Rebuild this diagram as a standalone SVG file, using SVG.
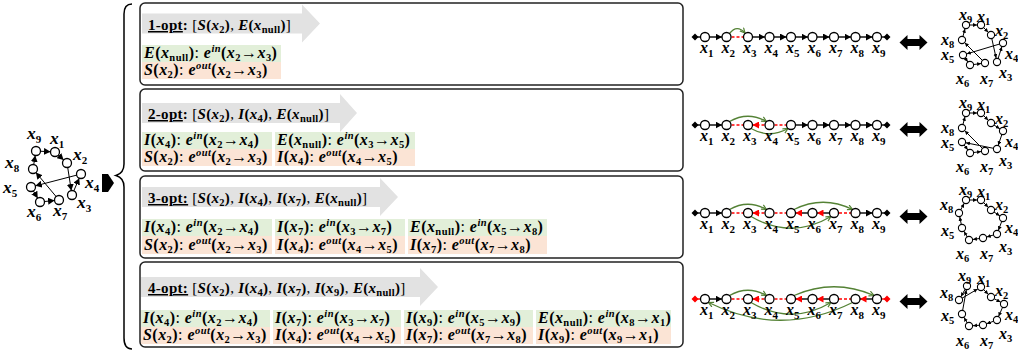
<svg xmlns="http://www.w3.org/2000/svg" width="1018" height="354" viewBox="0 0 1018 354">
<style>
.m{font-family:"Liberation Serif",serif;font-size:16px;letter-spacing:0.45px;font-weight:bold;fill:#000}
.t{font-size:15px;letter-spacing:0.3px}
.i{font-style:italic}
.s{font-size:10.5px;baseline-shift:-3px;font-style:normal}
.p{font-size:10.5px;baseline-shift:6px;font-style:italic}
.n{font-weight:normal;font-style:normal}
.lb{font-family:"Liberation Serif",serif;font-size:16px;font-weight:bold;font-style:italic}
.lb tspan{font-size:11px;font-style:normal;baseline-shift:-4px}
.big{font-size:17.5px}
.lr{font-family:"Liberation Serif",serif;font-size:16px;font-weight:bold;font-style:italic}
.lr tspan{font-size:10.5px;font-style:normal;baseline-shift:-3px}
.pn{fill:#fff;stroke:#222;stroke-width:1.5}
.ga{fill:#e2e2e2}
.gr{fill:#e2efd9}
.sa{fill:#fbe4d5}
.c{fill:#fff;stroke:#000;stroke-width:1.3}
.cs{fill:#fff;stroke:#000;stroke-width:1.1}
.k{stroke:#000;stroke-width:1.4;fill:none}
.kt{stroke:#000;stroke-width:1;fill:none}
.rd{stroke:#f00;stroke-width:1.4;stroke-dasharray:3,2;fill:none}
.rl{stroke:#f00;stroke-width:1.4;fill:none}
.g{stroke:#548235;stroke-width:1.3;fill:none}
</style>
<defs>
<marker id="ab" markerUnits="userSpaceOnUse" markerWidth="12" markerHeight="7" refX="11" refY="3.5" orient="auto"><path d="M0,0 L6.5,3.5 L0,7z" fill="#000"/></marker>
<marker id="ar" markerUnits="userSpaceOnUse" markerWidth="12" markerHeight="7" refX="11" refY="3.5" orient="auto"><path d="M0,0 L6.5,3.5 L0,7z" fill="#f00"/></marker>
<marker id="as" markerUnits="userSpaceOnUse" markerWidth="10" markerHeight="4" refX="8" refY="2" orient="auto"><path d="M0,0 L4,2 L0,4z" fill="#000"/></marker>
<marker id="ag" markerUnits="userSpaceOnUse" markerWidth="7" markerHeight="7" refX="5.5" refY="3" orient="auto"><path d="M0.5,0.5 L5.5,3 L0.5,5.5" fill="none" stroke="#548235" stroke-width="1.2"/></marker>
<polygon id="dbl" points="-14,0 -6,-7.5 -6,-3.5 6,-3.5 6,-7.5 14,0 6,7.5 6,3.5 -6,3.5 -6,7.5" fill="#000"/>
</defs>

<!-- left input graph -->
<g id="input-graph">
<g class="kt" stroke-width="1.3">
<line x1="36" y1="151" x2="55" y2="152" marker-end="url(#ab)"/>
<line x1="55" y1="152" x2="67" y2="163" marker-end="url(#ab)"/>
<line x1="67" y1="163" x2="72" y2="195" marker-end="url(#ab)"/>
<line x1="72" y1="195" x2="81" y2="174" marker-end="url(#ab)"/>
<line x1="81" y1="174" x2="31" y2="187" marker-end="url(#ab)"/>
<line x1="31" y1="187" x2="40" y2="202" marker-end="url(#ab)"/>
<line x1="40" y1="202" x2="59" y2="200" marker-end="url(#ab)"/>
<line x1="59" y1="200" x2="33" y2="169" marker-end="url(#ab)"/>
<line x1="33" y1="169" x2="36" y2="151" marker-end="url(#ab)"/>
</g>
<circle class="c" cx="36" cy="151" r="4.5"/><circle class="c" cx="55" cy="152" r="4.5"/><circle class="c" cx="67" cy="163" r="4.5"/>
<circle class="c" cx="33" cy="169" r="4.5"/><circle class="c" cx="81" cy="174" r="4.5"/><circle class="c" cx="31" cy="187" r="4.5"/>
<circle class="c" cx="72" cy="195" r="4.5"/><circle class="c" cx="40" cy="202" r="4.5"/><circle class="c" cx="59" cy="200" r="4.5"/>
<text class="lb big" x="27" y="139">x<tspan>9</tspan></text>
<text class="lb big" x="50" y="144">x<tspan>1</tspan></text>
<text class="lb big" x="73" y="160">x<tspan>2</tspan></text>
<text class="lb big" x="5" y="168">x<tspan>8</tspan></text>
<text class="lb big" x="85" y="188">x<tspan>4</tspan></text>
<text class="lb big" x="3" y="193">x<tspan>5</tspan></text>
<text class="lb big" x="77" y="208">x<tspan>3</tspan></text>
<text class="lb big" x="27" y="217">x<tspan>6</tspan></text>
<text class="lb big" x="53" y="216">x<tspan>7</tspan></text>
</g>

<g id="connectors-main">
<polygon points="102,174 108,174 114,183 108,192 102,192" fill="#000"/>
<path d="M132,4 C126,4 124,8 124,14 L124,164 C124,171 121,174 116,175.5 C121,177 124,180 124,187 L124,338 C124,345 126,349 132,349" fill="none" stroke="#000" stroke-width="1.5"/>
</g>

<!-- panel 1 -->
<g id="panel-1opt">
<rect class="pn" x="140" y="3" width="543" height="82" rx="5"/>
<path class="ga" d="M142,13.5 H302 V4.5 L320,23.5 L302,42.5 V33.5 H142z"/>
<text class="m t" x="148" y="30"><tspan text-decoration="underline">1-opt</tspan>: <tspan class="n">[</tspan><tspan class="i">S</tspan>(<tspan class="i">x</tspan><tspan class="s">2</tspan>)<tspan class="n">, </tspan><tspan class="i">E</tspan>(<tspan class="i">x</tspan><tspan class="s">null</tspan>)<tspan class="n">]</tspan></text>
<rect class="gr" x="142" y="45" width="139" height="17"/>
<rect class="sa" x="142" y="62" width="139" height="17"/>
<text class="m" x="144" y="58"><tspan class="i">E</tspan>(<tspan class="i">x</tspan><tspan class="s">null</tspan>)<tspan class="n">: </tspan><tspan class="i">e</tspan><tspan class="p">in</tspan>(<tspan class="i">x</tspan><tspan class="s">2</tspan><tspan class="n">→</tspan><tspan class="i">x</tspan><tspan class="s">3</tspan>)</text>
<text class="m" x="144" y="75"><tspan class="i">S</tspan>(<tspan class="i">x</tspan><tspan class="s">2</tspan>)<tspan class="n">: </tspan><tspan class="i">e</tspan><tspan class="p">out</tspan>(<tspan class="i">x</tspan><tspan class="s">2</tspan><tspan class="n">→</tspan><tspan class="i">x</tspan><tspan class="s">3</tspan>)</text>
</g>

<!-- panel 2 -->
<g id="panel-2opt">
<rect class="pn" x="140" y="89" width="543" height="82" rx="5"/>
<path class="ga" d="M142,103 H340 V94 L357,113 L340,132 V123 H142z"/>
<text class="m t" x="148" y="119"><tspan text-decoration="underline">2-opt</tspan>: <tspan class="n">[</tspan><tspan class="i">S</tspan>(<tspan class="i">x</tspan><tspan class="s">2</tspan>)<tspan class="n">, </tspan><tspan class="i">I</tspan>(<tspan class="i">x</tspan><tspan class="s">4</tspan>)<tspan class="n">, </tspan><tspan class="i">E</tspan>(<tspan class="i">x</tspan><tspan class="s">null</tspan>)<tspan class="n">]</tspan></text>
<rect class="gr" x="142" y="132" width="130" height="17"/>
<rect class="sa" x="142" y="149" width="130" height="17"/>
<rect class="gr" x="275" y="132" width="140" height="17"/>
<rect class="sa" x="275" y="149" width="140" height="17"/>
<text class="m" x="144" y="145"><tspan class="i">I</tspan>(<tspan class="i">x</tspan><tspan class="s">4</tspan>)<tspan class="n">: </tspan><tspan class="i">e</tspan><tspan class="p">in</tspan>(<tspan class="i">x</tspan><tspan class="s">2</tspan><tspan class="n">→</tspan><tspan class="i">x</tspan><tspan class="s">4</tspan>)</text>
<text class="m" x="144" y="162"><tspan class="i">S</tspan>(<tspan class="i">x</tspan><tspan class="s">2</tspan>)<tspan class="n">: </tspan><tspan class="i">e</tspan><tspan class="p">out</tspan>(<tspan class="i">x</tspan><tspan class="s">2</tspan><tspan class="n">→</tspan><tspan class="i">x</tspan><tspan class="s">3</tspan>)</text>
<text class="m" x="277" y="145"><tspan class="i">E</tspan>(<tspan class="i">x</tspan><tspan class="s">null</tspan>)<tspan class="n">: </tspan><tspan class="i">e</tspan><tspan class="p">in</tspan>(<tspan class="i">x</tspan><tspan class="s">3</tspan><tspan class="n">→</tspan><tspan class="i">x</tspan><tspan class="s">5</tspan>)</text>
<text class="m" x="277" y="162"><tspan class="i">I</tspan>(<tspan class="i">x</tspan><tspan class="s">4</tspan>)<tspan class="n">: </tspan><tspan class="i">e</tspan><tspan class="p">out</tspan>(<tspan class="i">x</tspan><tspan class="s">4</tspan><tspan class="n">→</tspan><tspan class="i">x</tspan><tspan class="s">5</tspan>)</text>
</g>

<!-- panel 3 -->
<g id="panel-3opt">
<rect class="pn" x="140" y="176" width="543" height="82" rx="5"/>
<path class="ga" d="M142,187 H380 V178 L398,197 L380,216 V207 H142z"/>
<text class="m t" x="148" y="203"><tspan text-decoration="underline">3-opt:</tspan>  <tspan class="n">[</tspan><tspan class="i">S</tspan>(<tspan class="i">x</tspan><tspan class="s">2</tspan>)<tspan class="n">, </tspan><tspan class="i">I</tspan>(<tspan class="i">x</tspan><tspan class="s">4</tspan>)<tspan class="n">, </tspan><tspan class="i">I</tspan>(<tspan class="i">x</tspan><tspan class="s">7</tspan>)<tspan class="n">, </tspan><tspan class="i">E</tspan>(<tspan class="i">x</tspan><tspan class="s">null</tspan>)<tspan class="n">]</tspan></text>
<rect class="gr" x="142" y="219" width="130" height="17"/>
<rect class="sa" x="142" y="236" width="130" height="18"/>
<rect class="gr" x="275" y="219" width="130" height="17"/>
<rect class="sa" x="275" y="236" width="130" height="18"/>
<rect class="gr" x="408" y="219" width="139" height="17"/>
<rect class="sa" x="408" y="236" width="139" height="18"/>
<text class="m" x="144" y="232"><tspan class="i">I</tspan>(<tspan class="i">x</tspan><tspan class="s">4</tspan>)<tspan class="n">: </tspan><tspan class="i">e</tspan><tspan class="p">in</tspan>(<tspan class="i">x</tspan><tspan class="s">2</tspan><tspan class="n">→</tspan><tspan class="i">x</tspan><tspan class="s">4</tspan>)</text>
<text class="m" x="144" y="250"><tspan class="i">S</tspan>(<tspan class="i">x</tspan><tspan class="s">2</tspan>)<tspan class="n">: </tspan><tspan class="i">e</tspan><tspan class="p">out</tspan>(<tspan class="i">x</tspan><tspan class="s">2</tspan><tspan class="n">→</tspan><tspan class="i">x</tspan><tspan class="s">3</tspan>)</text>
<text class="m" x="277" y="232"><tspan class="i">I</tspan>(<tspan class="i">x</tspan><tspan class="s">7</tspan>)<tspan class="n">: </tspan><tspan class="i">e</tspan><tspan class="p">in</tspan>(<tspan class="i">x</tspan><tspan class="s">3</tspan><tspan class="n">→</tspan><tspan class="i">x</tspan><tspan class="s">7</tspan>)</text>
<text class="m" x="277" y="250"><tspan class="i">I</tspan>(<tspan class="i">x</tspan><tspan class="s">4</tspan>)<tspan class="n">: </tspan><tspan class="i">e</tspan><tspan class="p">out</tspan>(<tspan class="i">x</tspan><tspan class="s">4</tspan><tspan class="n">→</tspan><tspan class="i">x</tspan><tspan class="s">5</tspan>)</text>
<text class="m" x="410" y="232"><tspan class="i">E</tspan>(<tspan class="i">x</tspan><tspan class="s">null</tspan>)<tspan class="n">: </tspan><tspan class="i">e</tspan><tspan class="p">in</tspan>(<tspan class="i">x</tspan><tspan class="s">5</tspan><tspan class="n">→</tspan><tspan class="i">x</tspan><tspan class="s">8</tspan>)</text>
<text class="m" x="410" y="250"><tspan class="i">I</tspan>(<tspan class="i">x</tspan><tspan class="s">7</tspan>)<tspan class="n">: </tspan><tspan class="i">e</tspan><tspan class="p">out</tspan>(<tspan class="i">x</tspan><tspan class="s">7</tspan><tspan class="n">→</tspan><tspan class="i">x</tspan><tspan class="s">8</tspan>)</text>
</g>

<!-- panel 4 -->
<g id="panel-4opt">
<rect class="pn" x="140" y="262" width="543" height="85" rx="5"/>
<path class="ga" d="M141,277 H420 V268 L438,287 L420,306 V297 H141z"/>
<text class="m t" x="148" y="293"><tspan text-decoration="underline">4-opt:</tspan>  <tspan class="n">[</tspan><tspan class="i">S</tspan>(<tspan class="i">x</tspan><tspan class="s">2</tspan>)<tspan class="n">, </tspan><tspan class="i">I</tspan>(<tspan class="i">x</tspan><tspan class="s">4</tspan>)<tspan class="n">, </tspan><tspan class="i">I</tspan>(<tspan class="i">x</tspan><tspan class="s">7</tspan>)<tspan class="n">, </tspan><tspan class="i">I</tspan>(<tspan class="i">x</tspan><tspan class="s">9</tspan>)<tspan class="n">, </tspan><tspan class="i">E</tspan>(<tspan class="i">x</tspan><tspan class="s">null</tspan>)<tspan class="n">]</tspan></text>
<rect class="gr" x="141" y="310" width="129" height="17"/>
<rect class="sa" x="141" y="327" width="129" height="17"/>
<rect class="gr" x="273" y="310" width="128" height="17"/>
<rect class="sa" x="273" y="327" width="128" height="17"/>
<rect class="gr" x="404" y="310" width="129" height="17"/>
<rect class="sa" x="404" y="327" width="129" height="17"/>
<rect class="gr" x="536" y="310" width="135" height="17"/>
<rect class="sa" x="536" y="327" width="135" height="17"/>
<text class="m" x="143" y="323"><tspan class="i">I</tspan>(<tspan class="i">x</tspan><tspan class="s">4</tspan>)<tspan class="n">: </tspan><tspan class="i">e</tspan><tspan class="p">in</tspan>(<tspan class="i">x</tspan><tspan class="s">2</tspan><tspan class="n">→</tspan><tspan class="i">x</tspan><tspan class="s">4</tspan>)</text>
<text class="m" x="143" y="340"><tspan class="i">S</tspan>(<tspan class="i">x</tspan><tspan class="s">2</tspan>)<tspan class="n">: </tspan><tspan class="i">e</tspan><tspan class="p">out</tspan>(<tspan class="i">x</tspan><tspan class="s">2</tspan><tspan class="n">→</tspan><tspan class="i">x</tspan><tspan class="s">3</tspan>)</text>
<text class="m" x="275" y="323"><tspan class="i">I</tspan>(<tspan class="i">x</tspan><tspan class="s">7</tspan>)<tspan class="n">: </tspan><tspan class="i">e</tspan><tspan class="p">in</tspan>(<tspan class="i">x</tspan><tspan class="s">3</tspan><tspan class="n">→</tspan><tspan class="i">x</tspan><tspan class="s">7</tspan>)</text>
<text class="m" x="275" y="340"><tspan class="i">I</tspan>(<tspan class="i">x</tspan><tspan class="s">4</tspan>)<tspan class="n">: </tspan><tspan class="i">e</tspan><tspan class="p">out</tspan>(<tspan class="i">x</tspan><tspan class="s">4</tspan><tspan class="n">→</tspan><tspan class="i">x</tspan><tspan class="s">5</tspan>)</text>
<text class="m" x="406" y="323"><tspan class="i">I</tspan>(<tspan class="i">x</tspan><tspan class="s">9</tspan>)<tspan class="n">: </tspan><tspan class="i">e</tspan><tspan class="p">in</tspan>(<tspan class="i">x</tspan><tspan class="s">5</tspan><tspan class="n">→</tspan><tspan class="i">x</tspan><tspan class="s">9</tspan>)</text>
<text class="m" x="406" y="340"><tspan class="i">I</tspan>(<tspan class="i">x</tspan><tspan class="s">7</tspan>)<tspan class="n">: </tspan><tspan class="i">e</tspan><tspan class="p">out</tspan>(<tspan class="i">x</tspan><tspan class="s">7</tspan><tspan class="n">→</tspan><tspan class="i">x</tspan><tspan class="s">8</tspan>)</text>
<text class="m" x="538" y="323"><tspan class="i">E</tspan>(<tspan class="i">x</tspan><tspan class="s">null</tspan>)<tspan class="n">: </tspan><tspan class="i">e</tspan><tspan class="p">in</tspan>(<tspan class="i">x</tspan><tspan class="s">8</tspan><tspan class="n">→</tspan><tspan class="i">x</tspan><tspan class="s">1</tspan>)</text>
<text class="m" x="538" y="340"><tspan class="i">I</tspan>(<tspan class="i">x</tspan><tspan class="s">9</tspan>)<tspan class="n">: </tspan><tspan class="i">e</tspan><tspan class="p">out</tspan>(<tspan class="i">x</tspan><tspan class="s">9</tspan><tspan class="n">→</tspan><tspan class="i">x</tspan><tspan class="s">1</tspan>)</text>
</g>

<!-- chains: connectors -->
<g id="chain-connectors">
<line class="k" x1="695" y1="37" x2="705" y2="37"/>
<line class="k" x1="705" y1="37" x2="726.5" y2="37" marker-end="url(#ab)"/>
<line class="rd" x1="726.5" y1="37" x2="748" y2="37"/>
<line class="k" x1="748" y1="37" x2="769.5" y2="37" marker-end="url(#ab)"/>
<line class="k" x1="769.5" y1="37" x2="791" y2="37" marker-end="url(#ab)"/>
<line class="k" x1="791" y1="37" x2="812.5" y2="37" marker-end="url(#ab)"/>
<line class="k" x1="812.5" y1="37" x2="834" y2="37" marker-end="url(#ab)"/>
<line class="k" x1="834" y1="37" x2="855.5" y2="37" marker-end="url(#ab)"/>
<line class="k" x1="855.5" y1="37" x2="877" y2="37" marker-end="url(#ab)"/>
<line class="k" x1="877" y1="37" x2="887" y2="37"/>
<path class="g" d="M729.5,33.5 Q737,24 745,33" marker-end="url(#ag)"/>
<line class="k" x1="695" y1="125" x2="705" y2="125"/>
<line class="k" x1="705" y1="125" x2="726.5" y2="125" marker-end="url(#ab)"/>
<line class="rd" x1="726.5" y1="125" x2="748" y2="125"/>
<line class="rd" x1="769.5" y1="125" x2="748" y2="125" marker-end="url(#ar)"/>
<line class="rd" x1="769.5" y1="125" x2="791" y2="125"/>
<line class="k" x1="791" y1="125" x2="812.5" y2="125" marker-end="url(#ab)"/>
<line class="k" x1="812.5" y1="125" x2="834" y2="125" marker-end="url(#ab)"/>
<line class="k" x1="834" y1="125" x2="855.5" y2="125" marker-end="url(#ab)"/>
<line class="k" x1="855.5" y1="125" x2="877" y2="125" marker-end="url(#ab)"/>
<line class="k" x1="877" y1="125" x2="887" y2="125"/>
<path class="g" d="M729.5,121.5 Q748,111 766.5,121.5" marker-end="url(#ag)"/>
<path class="g" d="M751,128.5 Q769.5,139 788,128.5" marker-end="url(#ag)"/>
<line class="k" x1="695" y1="213" x2="705" y2="213"/>
<line class="k" x1="705" y1="213" x2="726.5" y2="213" marker-end="url(#ab)"/>
<line class="rd" x1="726.5" y1="213" x2="748" y2="213"/>
<line class="rd" x1="769.5" y1="213" x2="748" y2="213" marker-end="url(#ar)"/>
<line class="rd" x1="769.5" y1="213" x2="791" y2="213"/>
<line class="k" x1="812.5" y1="213" x2="791" y2="213" marker-end="url(#ar)"/>
<line class="k" x1="834" y1="213" x2="812.5" y2="213" marker-end="url(#ar)"/>
<line class="rd" x1="834" y1="213" x2="855.5" y2="213"/>
<line class="k" x1="855.5" y1="213" x2="877" y2="213" marker-end="url(#ab)"/>
<line class="k" x1="877" y1="213" x2="887" y2="213"/>
<path class="g" d="M729.5,209.5 Q748,199 766.5,209.5" marker-end="url(#ag)"/>
<path class="g" d="M794,209.5 Q823,195 852.5,209.5" marker-end="url(#ag)"/>
<path class="g" d="M751,216.5 Q791,240 831,216.5" marker-end="url(#ag)"/>
<line class="rl" x1="695" y1="299" x2="705" y2="299"/>
<line class="k" x1="705" y1="299" x2="726.5" y2="299" marker-end="url(#ab)"/>
<line class="rd" x1="726.5" y1="299" x2="748" y2="299"/>
<line class="rd" x1="769.5" y1="299" x2="748" y2="299" marker-end="url(#ar)"/>
<line class="rd" x1="769.5" y1="299" x2="791" y2="299"/>
<line class="k" x1="812.5" y1="299" x2="791" y2="299" marker-end="url(#ar)"/>
<line class="k" x1="834" y1="299" x2="812.5" y2="299" marker-end="url(#ar)"/>
<line class="rd" x1="834" y1="299" x2="855.5" y2="299"/>
<line class="k" x1="877" y1="299" x2="855.5" y2="299" marker-end="url(#ar)"/>
<line class="rl" x1="877" y1="299" x2="887" y2="299"/>
<path class="g" d="M729.5,295.5 Q748,285 766.5,295.5" marker-end="url(#ag)"/>
<path class="g" d="M794,295.5 Q834,278 874,295.5" marker-end="url(#ag)"/>
<path class="g" d="M751,302.5 Q791,326 831,302.5" marker-end="url(#ag)"/>
<path class="g" d="M852.5,302.5 Q781,338 708.5,302.5" marker-end="url(#ag)"/>
</g>

<g id="chain-1">
<path d="M691.5,37 L695,33.5 L698.5,37 L695,40.5z M883.5,37 L887,33.5 L890.5,37 L887,40.5z" fill="#000"/>
<circle class="c" cx="705" cy="37" r="4.5"/><circle class="c" cx="726.5" cy="37" r="4.5"/><circle class="c" cx="748" cy="37" r="4.5"/><circle class="c" cx="769.5" cy="37" r="4.5"/><circle class="c" cx="791" cy="37" r="4.5"/><circle class="c" cx="812.5" cy="37" r="4.5"/><circle class="c" cx="834" cy="37" r="4.5"/><circle class="c" cx="855.5" cy="37" r="4.5"/><circle class="c" cx="877" cy="37" r="4.5"/>
<text class="lb" x="700" y="53">x<tspan>1</tspan></text><text class="lb" x="721.5" y="53">x<tspan>2</tspan></text><text class="lb" x="743" y="53">x<tspan>3</tspan></text><text class="lb" x="764.5" y="53">x<tspan>4</tspan></text><text class="lb" x="786" y="53">x<tspan>5</tspan></text><text class="lb" x="807.5" y="53">x<tspan>6</tspan></text><text class="lb" x="829" y="53">x<tspan>7</tspan></text><text class="lb" x="850.5" y="53">x<tspan>8</tspan></text><text class="lb" x="872" y="53">x<tspan>9</tspan></text>
</g>
<g id="chain-2">
<path d="M691.5,125 L695,121.5 L698.5,125 L695,128.5z M883.5,125 L887,121.5 L890.5,125 L887,128.5z" fill="#000"/>
<circle class="c" cx="705" cy="125" r="4.5"/><circle class="c" cx="726.5" cy="125" r="4.5"/><circle class="c" cx="748" cy="125" r="4.5"/><circle class="c" cx="769.5" cy="125" r="4.5"/><circle class="c" cx="791" cy="125" r="4.5"/><circle class="c" cx="812.5" cy="125" r="4.5"/><circle class="c" cx="834" cy="125" r="4.5"/><circle class="c" cx="855.5" cy="125" r="4.5"/><circle class="c" cx="877" cy="125" r="4.5"/>
<text class="lb" x="700" y="141">x<tspan>1</tspan></text><text class="lb" x="721.5" y="141">x<tspan>2</tspan></text><text class="lb" x="743" y="141">x<tspan>3</tspan></text><text class="lb" x="764.5" y="141">x<tspan>4</tspan></text><text class="lb" x="786" y="141">x<tspan>5</tspan></text><text class="lb" x="807.5" y="141">x<tspan>6</tspan></text><text class="lb" x="829" y="141">x<tspan>7</tspan></text><text class="lb" x="850.5" y="141">x<tspan>8</tspan></text><text class="lb" x="872" y="141">x<tspan>9</tspan></text>
</g>
<g id="chain-3">
<path d="M691.5,213 L695,209.5 L698.5,213 L695,216.5z M883.5,213 L887,209.5 L890.5,213 L887,216.5z" fill="#000"/>
<circle class="c" cx="705" cy="213" r="4.5"/><circle class="c" cx="726.5" cy="213" r="4.5"/><circle class="c" cx="748" cy="213" r="4.5"/><circle class="c" cx="769.5" cy="213" r="4.5"/><circle class="c" cx="791" cy="213" r="4.5"/><circle class="c" cx="812.5" cy="213" r="4.5"/><circle class="c" cx="834" cy="213" r="4.5"/><circle class="c" cx="855.5" cy="213" r="4.5"/><circle class="c" cx="877" cy="213" r="4.5"/>
<text class="lb" x="700" y="229">x<tspan>1</tspan></text><text class="lb" x="721.5" y="229">x<tspan>2</tspan></text><text class="lb" x="743" y="229">x<tspan>3</tspan></text><text class="lb" x="764.5" y="229">x<tspan>4</tspan></text><text class="lb" x="786" y="229">x<tspan>5</tspan></text><text class="lb" x="807.5" y="229">x<tspan>6</tspan></text><text class="lb" x="829" y="229">x<tspan>7</tspan></text><text class="lb" x="850.5" y="229">x<tspan>8</tspan></text><text class="lb" x="872" y="229">x<tspan>9</tspan></text>
</g>
<g id="chain-4">
<path d="M691.5,299 L695,295.5 L698.5,299 L695,302.5z M883.5,299 L887,295.5 L890.5,299 L887,302.5z" fill="#f00"/>
<circle class="c" cx="705" cy="299" r="4.5"/><circle class="c" cx="726.5" cy="299" r="4.5"/><circle class="c" cx="748" cy="299" r="4.5"/><circle class="c" cx="769.5" cy="299" r="4.5"/><circle class="c" cx="791" cy="299" r="4.5"/><circle class="c" cx="812.5" cy="299" r="4.5"/><circle class="c" cx="834" cy="299" r="4.5"/><circle class="c" cx="855.5" cy="299" r="4.5"/><circle class="c" cx="877" cy="299" r="4.5"/>
<text class="lb" x="700" y="315">x<tspan>1</tspan></text><text class="lb" x="721.5" y="315">x<tspan>2</tspan></text><text class="lb" x="743" y="315">x<tspan>3</tspan></text><text class="lb" x="764.5" y="315">x<tspan>4</tspan></text><text class="lb" x="786" y="315">x<tspan>5</tspan></text><text class="lb" x="807.5" y="315">x<tspan>6</tspan></text><text class="lb" x="829" y="315">x<tspan>7</tspan></text><text class="lb" x="850.5" y="315">x<tspan>8</tspan></text><text class="lb" x="872" y="315">x<tspan>9</tspan></text>
</g>

<g id="equivalence-arrows">
<use href="#dbl" x="913.5" y="42.5"/>
<use href="#dbl" x="913.5" y="129.5"/>
<use href="#dbl" x="913.5" y="216.5"/>
<use href="#dbl" x="913.5" y="301.5"/>
</g>

<g id="tour-1">
<g class="kt">
<line x1="966" y1="25" x2="981" y2="25" marker-end="url(#as)"/><line x1="981" y1="25" x2="991" y2="35" marker-end="url(#as)"/><line x1="991" y1="35" x2="997" y2="62" marker-end="url(#as)"/><line x1="997" y1="62" x2="1003" y2="43" marker-end="url(#as)"/><line x1="1003" y1="43" x2="963" y2="55" marker-end="url(#as)"/><line x1="963" y1="55" x2="970" y2="65" marker-end="url(#as)"/><line x1="970" y1="65" x2="985" y2="63" marker-end="url(#as)"/><line x1="985" y1="63" x2="962" y2="40" marker-end="url(#as)"/><line x1="962" y1="40" x2="966" y2="25" marker-end="url(#as)"/>
</g>
<circle class="cs" cx="966" cy="25" r="3.6"/><circle class="cs" cx="981" cy="25" r="3.6"/><circle class="cs" cx="991" cy="35" r="3.6"/><circle class="cs" cx="962" cy="40" r="3.6"/><circle class="cs" cx="1003" cy="43" r="3.6"/><circle class="cs" cx="963" cy="55" r="3.6"/><circle class="cs" cx="997" cy="62" r="3.6"/><circle class="cs" cx="970" cy="65" r="3.6"/><circle class="cs" cx="985" cy="63" r="3.6"/>
<text class="lr" x="959" y="20">x<tspan>9</tspan></text><text class="lr" x="977" y="22">x<tspan>1</tspan></text><text class="lr" x="995" y="36">x<tspan>2</tspan></text><text class="lr" x="941" y="45">x<tspan>8</tspan></text><text class="lr" x="1005" y="59">x<tspan>4</tspan></text><text class="lr" x="941" y="60">x<tspan>5</tspan></text><text class="lr" x="999" y="78">x<tspan>3</tspan></text><text class="lr" x="956" y="84">x<tspan>6</tspan></text><text class="lr" x="980" y="84">x<tspan>7</tspan></text>
</g>
<g id="tour-2">
<g class="kt">
<line x1="966" y1="113" x2="981" y2="113" marker-end="url(#as)"/><line x1="981" y1="113" x2="991" y2="123" marker-end="url(#as)"/><line x1="991" y1="123" x2="1003" y2="131" marker-end="url(#as)"/><line x1="1003" y1="131" x2="997" y2="149" marker-end="url(#as)"/><line x1="997" y1="149" x2="962" y2="142" marker-end="url(#as)"/><line x1="962" y1="142" x2="970" y2="153" marker-end="url(#as)"/><line x1="970" y1="153" x2="985" y2="151" marker-end="url(#as)"/><line x1="985" y1="151" x2="962" y2="128" marker-end="url(#as)"/><line x1="962" y1="128" x2="966" y2="113" marker-end="url(#as)"/>
</g>
<circle class="cs" cx="966" cy="113" r="3.6"/><circle class="cs" cx="981" cy="113" r="3.6"/><circle class="cs" cx="991" cy="123" r="3.6"/><circle class="cs" cx="962" cy="128" r="3.6"/><circle class="cs" cx="1003" cy="131" r="3.6"/><circle class="cs" cx="962" cy="142" r="3.6"/><circle class="cs" cx="997" cy="149" r="3.6"/><circle class="cs" cx="970" cy="153" r="3.6"/><circle class="cs" cx="985" cy="151" r="3.6"/>
<text class="lr" x="959" y="108">x<tspan>9</tspan></text><text class="lr" x="977" y="110">x<tspan>1</tspan></text><text class="lr" x="995" y="124">x<tspan>2</tspan></text><text class="lr" x="941" y="133">x<tspan>8</tspan></text><text class="lr" x="1005" y="147">x<tspan>4</tspan></text><text class="lr" x="941" y="148">x<tspan>5</tspan></text><text class="lr" x="999" y="166">x<tspan>3</tspan></text><text class="lr" x="956" y="172">x<tspan>6</tspan></text><text class="lr" x="980" y="172">x<tspan>7</tspan></text>
</g>
<g id="tour-3">
<g class="kt">
<line x1="966" y1="200" x2="981" y2="200" marker-end="url(#as)"/><line x1="981" y1="200" x2="991" y2="210" marker-end="url(#as)"/><line x1="991" y1="210" x2="1003" y2="218" marker-end="url(#as)"/><line x1="1003" y1="218" x2="997" y2="234" marker-end="url(#as)"/><line x1="997" y1="234" x2="983" y2="238" marker-end="url(#as)"/><line x1="983" y1="238" x2="969" y2="240" marker-end="url(#as)"/><line x1="969" y1="240" x2="962" y2="228" marker-end="url(#as)"/><line x1="962" y1="228" x2="959" y2="213" marker-end="url(#as)"/><line x1="959" y1="213" x2="966" y2="200" marker-end="url(#as)"/>
</g>
<circle class="cs" cx="966" cy="200" r="3.6"/><circle class="cs" cx="981" cy="200" r="3.6"/><circle class="cs" cx="991" cy="210" r="3.6"/><circle class="cs" cx="959" cy="213" r="3.6"/><circle class="cs" cx="1003" cy="218" r="3.6"/><circle class="cs" cx="962" cy="228" r="3.6"/><circle class="cs" cx="997" cy="234" r="3.6"/><circle class="cs" cx="969" cy="240" r="3.6"/><circle class="cs" cx="983" cy="238" r="3.6"/>
<text class="lr" x="959" y="195">x<tspan>9</tspan></text><text class="lr" x="977" y="197">x<tspan>1</tspan></text><text class="lr" x="995" y="210">x<tspan>2</tspan></text><text class="lr" x="940" y="210">x<tspan>8</tspan></text><text class="lr" x="1005" y="233">x<tspan>4</tspan></text><text class="lr" x="941" y="236">x<tspan>5</tspan></text><text class="lr" x="999" y="252">x<tspan>3</tspan></text><text class="lr" x="956" y="259">x<tspan>6</tspan></text><text class="lr" x="980" y="259">x<tspan>7</tspan></text>
</g>
<g id="tour-4">
<g class="kt">
<line x1="981" y1="287" x2="991" y2="297" marker-end="url(#as)"/><line x1="991" y1="297" x2="1004" y2="304" marker-end="url(#as)"/><line x1="1004" y1="304" x2="997" y2="320" marker-end="url(#as)"/><line x1="997" y1="320" x2="983" y2="325" marker-end="url(#as)"/><line x1="983" y1="325" x2="969" y2="326" marker-end="url(#as)"/><line x1="969" y1="326" x2="962" y2="314" marker-end="url(#as)"/><line x1="962" y1="314" x2="967" y2="286" marker-end="url(#as)"/><line x1="967" y1="286" x2="959" y2="300" marker-end="url(#as)"/><line x1="959" y1="300" x2="981" y2="287" marker-end="url(#as)"/>
</g>
<circle class="cs" cx="967" cy="286" r="3.6"/><circle class="cs" cx="981" cy="287" r="3.6"/><circle class="cs" cx="991" cy="297" r="3.6"/><circle class="cs" cx="959" cy="300" r="3.6"/><circle class="cs" cx="1004" cy="304" r="3.6"/><circle class="cs" cx="962" cy="314" r="3.6"/><circle class="cs" cx="997" cy="320" r="3.6"/><circle class="cs" cx="969" cy="326" r="3.6"/><circle class="cs" cx="983" cy="325" r="3.6"/>
<text class="lr" x="958" y="281">x<tspan>9</tspan></text><text class="lr" x="977" y="284">x<tspan>1</tspan></text><text class="lr" x="995" y="296">x<tspan>2</tspan></text><text class="lr" x="940" y="298">x<tspan>8</tspan></text><text class="lr" x="1005" y="320">x<tspan>4</tspan></text><text class="lr" x="941" y="321">x<tspan>5</tspan></text><text class="lr" x="999" y="339">x<tspan>3</tspan></text><text class="lr" x="956" y="346">x<tspan>6</tspan></text><text class="lr" x="980" y="346">x<tspan>7</tspan></text>
</g>
</svg>
